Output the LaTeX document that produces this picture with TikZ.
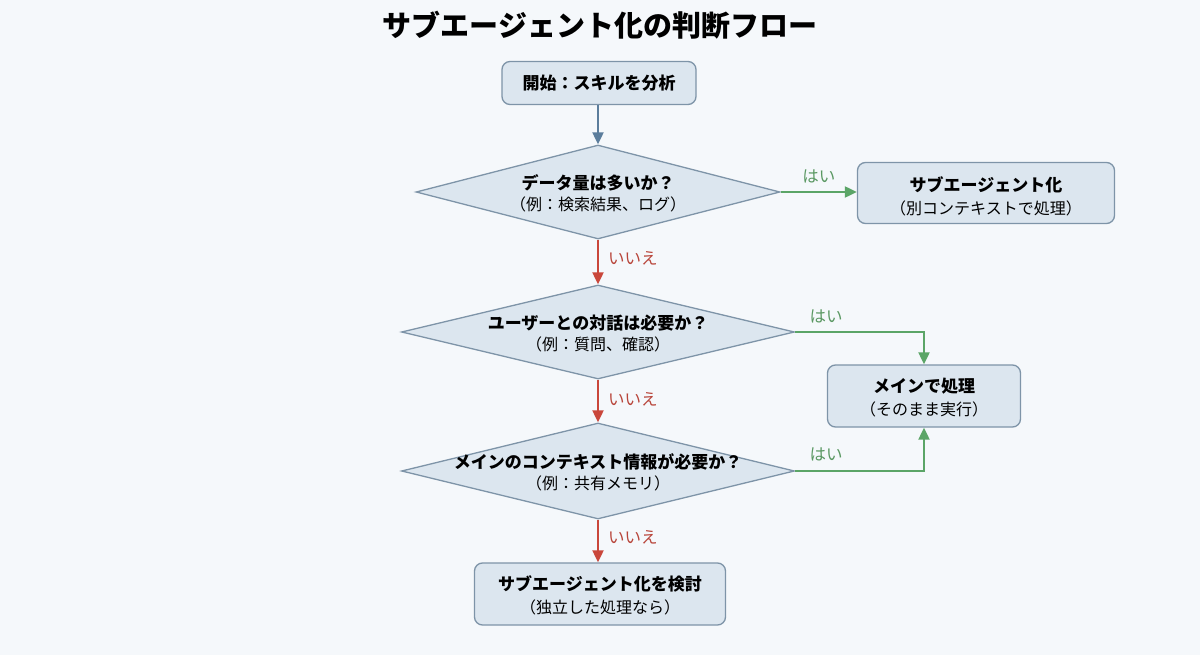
\documentclass[tikz,border=0pt]{standalone}
\usepackage{fontspec}
\setmainfont{Noto Sans CJK JP}
\usetikzlibrary{shapes.geometric,arrows.meta}
\definecolor{bg}{HTML}{F5F8FB}
\definecolor{boxfill}{HTML}{DCE6EF}
\definecolor{boxdraw}{HTML}{7E94A8}
\definecolor{flowblue}{HTML}{5B7D9C}
\definecolor{yesgreen}{HTML}{5BA567}
\definecolor{nored}{HTML}{C9473B}
\definecolor{yestext}{HTML}{5A9862}
\definecolor{notext}{HTML}{B8453A}
\begin{document}
\begin{tikzpicture}[x=1pt,y=-1pt,
  procbox/.style={draw=boxdraw, fill=boxfill, line width=1.3pt, rounded corners=8pt, inner sep=0pt, align=center},
  decision/.style={diamond, draw=boxdraw, fill=boxfill, line width=1.3pt, inner sep=0pt},
  dtext/.style={align=center, inner sep=0pt, font=\fontsize{16}{21}\selectfont},
  btext/.style={align=center, inner sep=0pt, font=\fontsize{16}{23}\selectfont},
  flow/.style={line width=2pt, -{Triangle[length=12pt,width=11pt]}},
  yeslabel/.style={text=yestext, inner sep=0pt, font=\fontsize{16.5}{16.5}\selectfont},
  nolabel/.style={text=notext, inner sep=0pt, font=\fontsize{16.5}{16.5}\selectfont}
]
\useasboundingbox[fill=bg] (0,0) rectangle (1200,655);

\node[font=\fontsize{29}{29}\selectfont\bfseries] (title) at (600,25) {サブエージェント化の判断フロー};

\node[procbox, minimum width=194pt, minimum height=43pt, font=\bfseries\fontsize{17}{22}\selectfont] (start) at (599,83) {開始：スキルを分析};

\node[decision, minimum width=364pt, minimum height=94pt] (d1) at (598,192) {};
\node[dtext] (d1t) at (598,193) {{\bfseries\fontsize{17}{21}\selectfont データ量は多いか？}\\（例：検索結果、ログ）};

\node[decision, minimum width=393pt, minimum height=94pt] (d2) at (598,332) {};
\node[dtext] (d2t) at (598,333) {{\bfseries\fontsize{17}{21}\selectfont ユーザーとの対話は必要か？}\\（例：質問、確認）};

\node[decision, minimum width=393pt, minimum height=96pt] (d3) at (598,471) {};
\node[dtext] (d3t) at (598,472) {{\bfseries\fontsize{17}{21}\selectfont メインのコンテキスト情報が必要か？}\\（例：共有メモリ）};

\node[procbox, minimum width=257pt, minimum height=61pt] (sub) at (986,193) {};
\node[btext] (subt) at (986,196) {{\bfseries\fontsize{17}{23}\selectfont サブエージェント化}\\（別コンテキストで処理）};

\node[procbox, minimum width=193pt, minimum height=62pt] (main) at (924,396) {};
\node[btext] (maint) at (924,398) {{\bfseries\fontsize{17}{22}\selectfont メインで処理}\\（そのまま実行）};

\node[procbox, minimum width=251pt, minimum height=62pt] (final) at (600,594) {};
\node[btext] (finalt) at (600,595) {{\bfseries\fontsize{17}{23}\selectfont サブエージェント化を検討}\\（独立した処理なら）};

\draw[flow, flowblue] (d1.north |- start.south) -- (d1.north);

\draw[flow, nored] (d1.south) -- node[nolabel, right=9pt, pos=0.42] (no1) {いいえ} (d2.north);
\draw[flow, nored] (d2.south) -- node[nolabel, right=9pt, pos=0.45] (no2) {いいえ} (d3.north);
\draw[flow, nored] (d3.south) -- node[nolabel, right=9pt, pos=0.42] (no3) {いいえ} (d3.south |- final.north);

\draw[flow, yesgreen] (d1.east) -- node[yeslabel, above=8pt] (yes1) {はい} (sub.west |- d1.east);
\draw[flow, yesgreen] (d2.east) -| node[yeslabel, above=8pt, pos=0.12] (yes2) {はい} (main.north);
\draw[flow, yesgreen] (d3.east) -| node[yeslabel, above=9pt, pos=0.12] (yes3) {はい} (main.south);
\end{tikzpicture}
\end{document}
